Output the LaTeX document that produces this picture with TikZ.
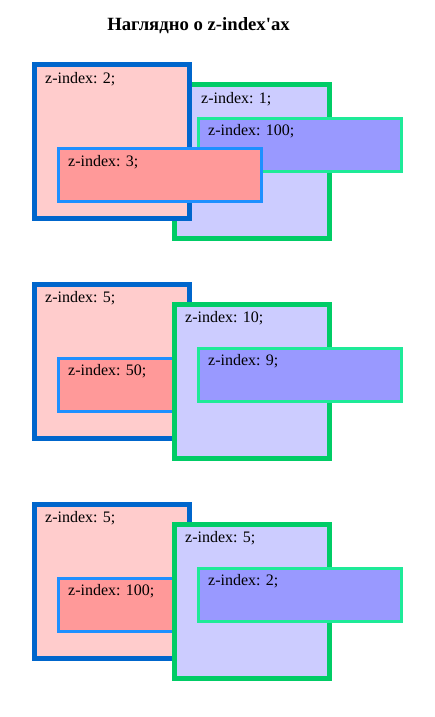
\documentclass[tikz,border=0pt]{standalone}
\usepackage{fontspec}
\setmainfont{Liberation Serif}
\usepackage{tikz}
\usetikzlibrary{positioning}

\definecolor{outerblue}{HTML}{0066CC}
\definecolor{outergreen}{HTML}{00CC66}
\definecolor{innerblue}{HTML}{1E90FF}
\definecolor{innergreen}{HTML}{1EEA98}
\definecolor{pinkfill}{HTML}{FFCCCC}
\definecolor{lilacfill}{HTML}{CCCCFF}
\definecolor{redfill}{HTML}{FF9999}
\definecolor{violetfill}{HTML}{9999FF}

\begin{document}
\begin{tikzpicture}[
    x=1pt, y=-1pt,
    bigbox/.style={draw, rectangle, line width=5pt, inner sep=0pt, outer sep=0pt, minimum width=155pt, minimum height=154pt},
    smallbox/.style={draw, rectangle, line width=3pt, inner sep=0pt, outer sep=0pt, minimum width=203pt, minimum height=53pt},
    bluebox/.style={bigbox, draw=outerblue, fill=pinkfill},
    greenbox/.style={bigbox, draw=outergreen, fill=lilacfill},
    redbox/.style={smallbox, draw=innerblue, fill=redfill},
    violetbox/.style={smallbox, draw=innergreen, fill=violetfill},
    lbl/.style={anchor=base west, inner sep=0pt, font=\fontsize{16}{19}\selectfont}
  ]
    \useasboundingbox (0,0) rectangle (434,717);

    % Titulo
    \node[anchor=base, inner sep=0pt, font=\fontsize{18.7}{22}\selectfont\bfseries] (title) at (198.5,31) {Наглядно о z-index\textquotesingle ах};

    % Primer grupo
    \node[greenbox] (green1) at (252,161.5) {};
    \node[lbl] (green1t) at ([shift={(26.5,18.5)}]green1.north west) {z-index: 1;};
    \node[violetbox] (violet1) at (300,145) {};
    \node[lbl] (violet1t) at ([shift={(9.5,16.5)}]violet1.north west) {z-index: 100;};
    \node[bluebox] (blue1) at (112,141.5) {};
    \node[lbl] (blue1t) at ([shift={(10.5,18.5)}]blue1.north west) {z-index: 2;};
    \node[redbox] (red1) at (160,175) {};
    \node[lbl] (red1t) at ([shift={(9.5,17.5)}]red1.north west) {z-index: 3;};

    % Segundo grupo
    \node[bluebox] (blue2) at (112,361.5) {};
    \node[lbl] (blue2t) at ([shift={(10.5,18)}]blue2.north west) {z-index: 5;};
    \node[redbox] (red2) at (160,385) {};
    \node[lbl] (red2t) at ([shift={(9.5,17)}]red2.north west) {z-index: 50;};
    \node[greenbox] (green2) at (252,381.5) {};
    \node[lbl] (green2t) at ([shift={(10.5,18)}]green2.north west) {z-index: 10;};
    \node[violetbox] (violet2) at (300,375) {};
    \node[lbl] (violet2t) at ([shift={(9.5,17)}]violet2.north west) {z-index: 9;};

    % Tercer grupo
    \node[bluebox] (blue3) at (112,581.5) {};
    \node[lbl] (blue3t) at ([shift={(10.5,18)}]blue3.north west) {z-index: 5;};
    \node[redbox] (red3) at (160,605) {};
    \node[lbl] (red3t) at ([shift={(9.5,17)}]red3.north west) {z-index: 100;};
    \node[greenbox] (green3) at (252,601.5) {};
    \node[lbl] (green3t) at ([shift={(10.5,18)}]green3.north west) {z-index: 5;};
    \node[violetbox] (violet3) at (300,595) {};
    \node[lbl] (violet3t) at ([shift={(9.5,17)}]violet3.north west) {z-index: 2;};
  \end{tikzpicture}
\end{document}
